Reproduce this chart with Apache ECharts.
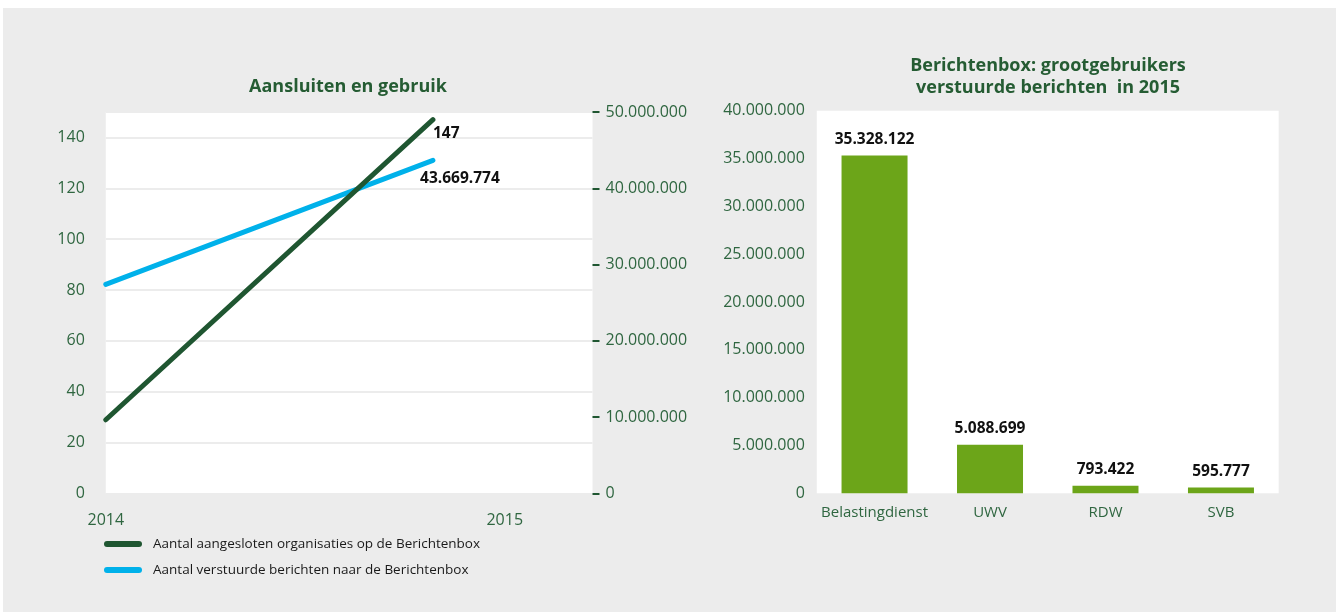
<!DOCTYPE html>
<html>
<head>
<meta charset="utf-8">
<script src="https://cdn.jsdelivr.net/npm/echarts@6/dist/echarts.min.js"></script>
<style>
html,body{margin:0;padding:0;background:#ffffff;}
#bg{position:absolute;left:3px;top:8px;width:1333px;height:604px;background:#ececec;}
#chart{position:absolute;left:0;top:0;width:1336px;height:612px;}
</style>
</head>
<body>
<div id="bg"></div>
<div id="chart"></div>
<script>
// ---- data ----
const lineTitle = 'Aansluiten en gebruik';
const barTitle = 'Berichtenbox: grootgebruikers\nverstuurde berichten  in 2015';
const lineX = [2014, 2014.82];              // positions along the year axis
const organisaties = [29, 147];
const berichten = [27400000, 43669774];
const yearTicks = [2014, 2015];
const seriesNames = ['Aantal aangesloten organisaties op de Berichtenbox', 'Aantal verstuurde berichten naar de Berichtenbox'];
const barCategories = ['Belastingdienst', 'UWV', 'RDW', 'SVB'];
const barValues = [35328122, 5088699, 793422, 595777];

// ---- styling ----
const FONT = '"Open Sans", "Noto Sans", sans-serif';
const GREEN_TEXT = '#2f6640';
const TITLE_GREEN = '#255c33';
const DARK_GREEN = '#1f5631';
const BLUE = '#00b1ea';
const BAR_GREEN = '#6ca519';
const GRIDLINE = '#ececec';

function nl(v) {
  return String(Math.round(v)).replace(/\B(?=(\d{3})+(?!\d))/g, '.');
}

const last = organisaties.length - 1;
const orgData = lineX.map((x, i) => {
  const d = { value: [x, organisaties[i]] };
  if (i === last) {
    d.label = { show: true, position: 'inside', align: 'left', verticalAlign: 'middle', offset: [0, 14],
      formatter: p => nl(p.value[1]), color: '#111', fontWeight: 'bold', fontSize: 15.5, fontFamily: FONT };
  }
  return d;
});
const berData = lineX.map((x, i) => {
  const d = { value: [x, berichten[i]] };
  if (i === last) {
    d.label = { show: true, position: 'inside', align: 'center', verticalAlign: 'middle', offset: [27, 18],
      formatter: p => nl(p.value[1]), color: '#111', fontWeight: 'bold', fontSize: 15.5, fontFamily: FONT };
  }
  return d;
});

const capsule = 'path://M3,0 L35,0 A3,3 0 0 1 35,6 L3,6 A3,3 0 0 1 3,0 Z';

const chart = echarts.init(document.getElementById('chart'), null, { renderer: 'canvas' });
chart.setOption({
  animation: false,
  backgroundColor: 'transparent',
  textStyle: { fontFamily: FONT },
  title: [
    { text: lineTitle, left: 348, top: 78, padding: 0, textAlign: 'center',
      textStyle: { color: TITLE_GREEN, fontSize: 18, fontWeight: 'bold', fontFamily: FONT } },
    { text: barTitle, left: 1048, top: 55, padding: 0, textAlign: 'center',
      textStyle: { color: TITLE_GREEN, fontSize: 18, fontWeight: 'bold', fontFamily: FONT, lineHeight: 22 } }
  ],
  legend: {
    orient: 'vertical', left: 104, top: 537, padding: 0, itemGap: 12, itemWidth: 38, itemHeight: 6,
    data: [
      { name: seriesNames[0], icon: capsule, itemStyle: { color: DARK_GREEN } },
      { name: seriesNames[1], icon: capsule, itemStyle: { color: BLUE } }
    ],
    textStyle: { color: '#1a1a1a', fontSize: 13.5, fontFamily: FONT, padding: [0, 0, 0, 6] },
    selectedMode: false
  },
  grid: [
    { left: 105.8, right: 743.5, top: 112, bottom: 118.5, show: true, backgroundColor: '#ffffff', borderWidth: 0 },
    { left: 816.8, right: 57.3, top: 110.7, bottom: 118.7, show: true, backgroundColor: '#ffffff', borderWidth: 0 }
  ],
  xAxis: [
    { type: 'value', gridIndex: 0, min: yearTicks[0], max: 2015.22, interval: 1,
      axisLine: { show: false }, axisTick: { show: false }, splitLine: { show: false },
      axisLabel: { color: GREEN_TEXT, fontSize: 16, margin: 19, fontFamily: FONT, showMaxLabel: false,
        formatter: v => (yearTicks.indexOf(Math.round(v * 1000) / 1000) >= 0 ? String(v) : '') } },
    { type: 'category', gridIndex: 1, data: barCategories,
      axisLine: { show: false }, axisTick: { show: false },
      axisLabel: { interval: 0, color: GREEN_TEXT, fontSize: 15, margin: 12, fontFamily: FONT } }
  ],
  yAxis: [
    { type: 'value', gridIndex: 0, min: 0, max: 150, interval: 20, position: 'left',
      axisLine: { show: false }, axisTick: { show: false },
      splitLine: { show: true, lineStyle: { color: GRIDLINE, width: 2 } },
      axisLabel: { color: GREEN_TEXT, fontSize: 16, margin: 21, fontFamily: FONT, showMaxLabel: false,
        formatter: v => (v % 20 === 0 ? String(v) : '') } },
    { type: 'value', gridIndex: 0, min: 0, max: 50000000, interval: 10000000, position: 'right',
      axisLine: { show: false },
      axisTick: { show: true, length: 7, lineStyle: { color: DARK_GREEN, width: 2 } },
      splitLine: { show: false },
      axisLabel: { color: GREEN_TEXT, fontSize: 16, margin: 13, fontFamily: FONT, formatter: v => nl(v) } },
    { type: 'value', gridIndex: 1, min: 0, max: 40000000, interval: 5000000,
      axisLine: { show: false }, axisTick: { show: false }, splitLine: { show: false },
      axisLabel: { color: GREEN_TEXT, fontSize: 16, margin: 12, fontFamily: FONT, formatter: v => nl(v) } }
  ],
  series: [
    { name: seriesNames[1], type: 'line', xAxisIndex: 0, yAxisIndex: 1, data: berData,
      symbol: 'circle', symbolSize: 2, showSymbol: true, itemStyle: { color: BLUE },
      lineStyle: { color: BLUE, width: 5, cap: 'round' }, z: 2 },
    { name: seriesNames[0], type: 'line', xAxisIndex: 0, yAxisIndex: 0, data: orgData,
      symbol: 'circle', symbolSize: 2, showSymbol: true, itemStyle: { color: DARK_GREEN },
      lineStyle: { color: DARK_GREEN, width: 5, cap: 'round' }, z: 3 },
    { name: 'grootgebruikers', type: 'bar', xAxisIndex: 1, yAxisIndex: 2, data: barValues,
      barWidth: 66, itemStyle: { color: BAR_GREEN },
      label: { show: true, position: 'top', distance: 8, color: '#111', fontWeight: 'bold', fontSize: 15.5,
        fontFamily: FONT, formatter: p => nl(p.value) } }
  ]
});
</script>
</body>
</html>
